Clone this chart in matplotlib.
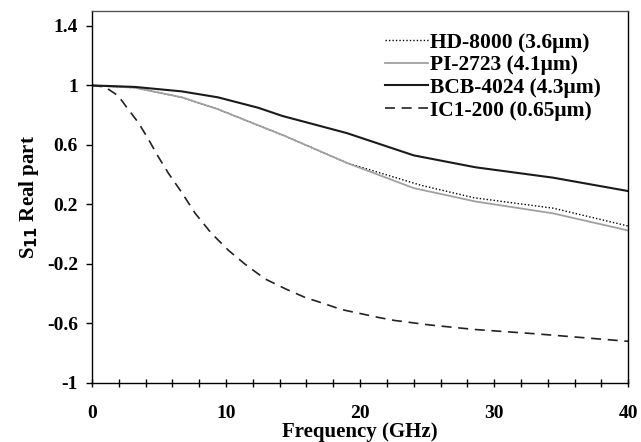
import matplotlib
matplotlib.use('Agg')
import matplotlib.pyplot as plt
from matplotlib.ticker import MultipleLocator

# values
freq_hd = [0, 3.2, 6.7, 9.4, 11.9, 14.4, 19.0, 24.5, 28.5, 34.4, 40]
s11_hd = [1.0, 0.985, 0.92, 0.84, 0.75, 0.66, 0.48, 0.33, 0.245, 0.175, 0.055]

freq_pi = [0, 3.2, 6.7, 9.4, 11.9, 14.4, 19.0, 24.0, 28.6, 34.4, 40]
s11_pi = [1.0, 0.985, 0.92, 0.84, 0.75, 0.66, 0.48, 0.31, 0.22, 0.14, 0.025]

freq_bcb = [0, 3.2, 6.7, 9.4, 12.4, 14.2, 19.0, 24.0, 28.6, 34.4, 40]
s11_bcb = [1.0, 0.99, 0.96, 0.92, 0.85, 0.795, 0.68, 0.53, 0.45, 0.38, 0.29]

freq_ic = [0, 0.97, 1.96, 2.7, 3.46, 4.2, 4.95, 5.7, 6.7, 7.7, 8.9, 10.2,
           11.4, 12.9, 14.5, 15.9, 17.3, 18.6, 20.0, 21.4, 22.6, 25.2,
           28.5, 33.2, 40]
s11_ic = [1.0, 0.99, 0.93, 0.84, 0.75, 0.64, 0.52, 0.41, 0.28, 0.14, 0.007,
          -0.11, -0.2, -0.30, -0.37, -0.425, -0.466, -0.506, -0.533, -0.56,
          -0.58, -0.61, -0.64, -0.67, -0.72]

labels = ['HD-8000 (3.6\u03bcm)', 'PI-2723 (4.1\u03bcm)',
          'BCB-4024 (4.3\u03bcm)', 'IC1-200 (0.65\u03bcm)']

plt.rcParams['font.family'] = ['Liberation Serif', 'DejaVu Serif']
plt.rcParams['font.weight'] = 'bold'

fig = plt.figure(figsize=(6.41, 4.42), dpi=100)
ax = fig.add_axes([0.1435, 0.1335, 0.8365, 0.8415])

ax.plot(freq_hd, s11_hd, color='black', linestyle=(0, (1, 1.5)), linewidth=1.0,
        label=labels[0])
ax.plot(freq_pi, s11_pi, color='#a0a0a0', linewidth=1.3, label=labels[1])
ax.plot(freq_bcb, s11_bcb, color='#1a1a1a', linewidth=1.5, label=labels[2])
ax.plot(freq_ic, s11_ic, color='#222222', linestyle=(0, (6, 4)), linewidth=1.2,
        label=labels[3])

ax.set_xlim(0, 40)
ax.set_ylim(-1, 1.5)
ax.xaxis.set_major_locator(MultipleLocator(10))
ax.xaxis.set_minor_locator(MultipleLocator(2))
ax.set_yticks([-1, -0.6, -0.2, 0.2, 0.6, 1, 1.4])
ax.set_yticklabels(['-1', '-0.6', '-0.2', '0.2', '0.6', '1', '1.4'])

ax.tick_params(axis='y', direction='out', length=4, width=1, labelsize=14, pad=6)
ax.tick_params(axis='x', which='both', direction='inout', length=6, width=1,
               labelsize=14, pad=13)
for side in ['left', 'bottom', 'right', 'top']:
    ax.spines[side].set_linewidth(1.0)
ax.spines['top'].set_color('#555555')

ax.set_xlabel('Frequency (GHz)', fontsize=15, fontweight='bold', labelpad=0)
ax.set_ylabel('S$_{\\mathbf{11}}$ Real part', fontsize=15, fontweight='bold',
              labelpad=4)

leg = ax.legend(loc='upper left', bbox_to_anchor=(0.547, 0.942), frameon=False,
                fontsize=15.5, handlelength=2.0, handletextpad=0.1,
                labelspacing=0.12, borderaxespad=0.0, borderpad=0.0)

fig.savefig('out.png', dpi=100)
